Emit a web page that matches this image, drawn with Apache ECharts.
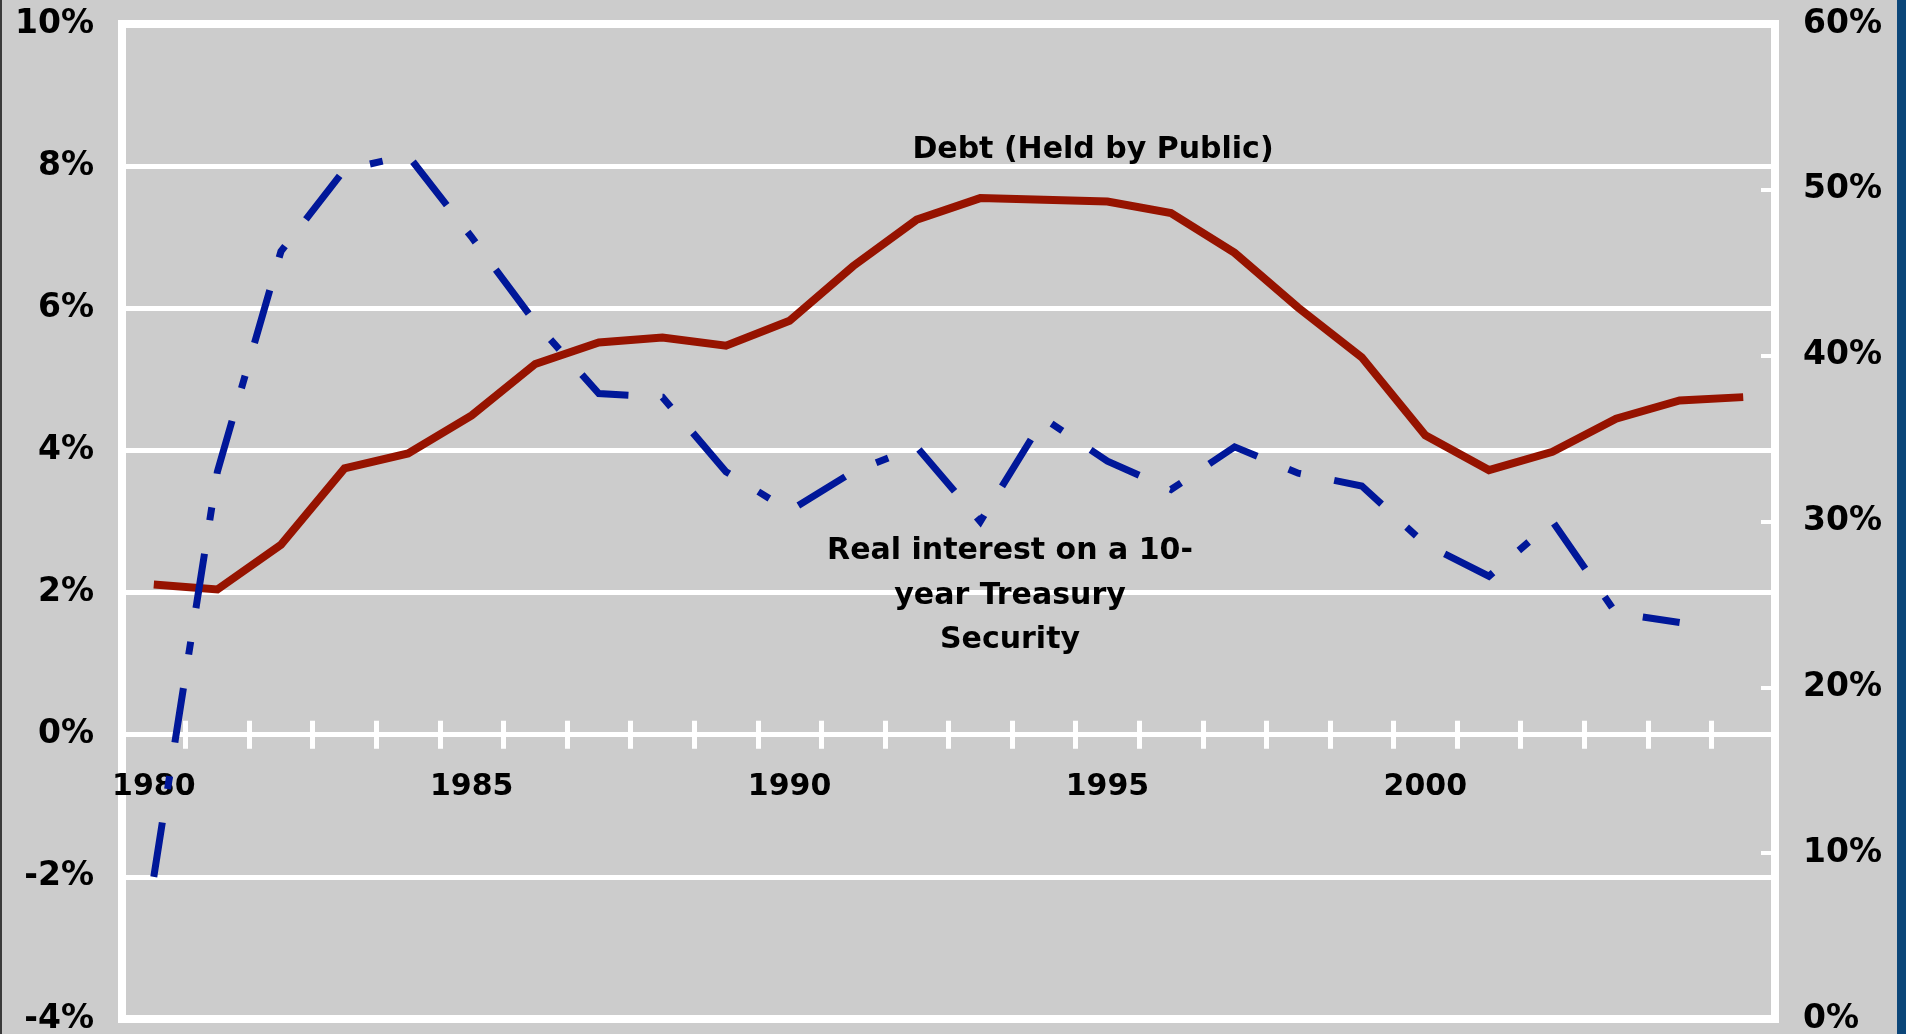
<!DOCTYPE html>
<html>
<head>
<meta charset="utf-8">
<script src="https://cdn.jsdelivr.net/npm/echarts@6/dist/echarts.min.js"></script>
<style>
html,body{margin:0;padding:0;background:#cccccc;}
#chart{position:absolute;left:0;top:0;width:1906px;height:1034px;background:#cccccc;}
#lb{position:absolute;left:0;top:0;width:2px;height:1034px;background:#3a3a3a;}
#rb{position:absolute;left:1897px;top:0;width:9px;height:1034px;background:#0b4679;}
</style>
</head>
<body>
<div id="chart"></div>
<div id="lb"></div>
<div id="rb"></div>
<script>
const years = ['1980','1981','1982','1983','1984','1985','1986','1987','1988','1989','1990','1991','1992','1993','1994','1995','1996','1997','1998','1999','2000','2001','2002','2003','2004','2005'];
// Year labels shown under the axis
const yearLabels = ['1980','1985','1990','1995','2000'];
// Debt held by public, % (right axis)
const debtHeld = [26.2, 25.9, 28.6, 33.2, 34.1, 36.4, 39.5, 40.8, 41.1, 40.6, 42.1, 45.4, 48.2, 49.5, 49.4, 49.3, 48.6, 46.2, 42.9, 39.9, 35.2, 33.1, 34.2, 36.2, 37.3, 37.5];
// Real interest on a 10-year Treasury security, % (left axis)
const realInterest = [-2.0, 3.7, 6.8, 7.95, 8.15, 7.0, 5.8, 4.8, 4.75, 3.7, 3.15, 3.7, 4.05, 3.0, 4.45, 3.85, 3.45, 4.05, 3.68, 3.5, 2.68, 2.23, 3.0, 1.71, 1.58, null];
const leftTicks = {min: -4, max: 10, interval: 2};
const rightTicks = {min: 0, max: 60, interval: 10};
const debtLabel = 'Debt (Held by Public)';
const rateLabel = 'Real interest on a 10-\nyear Treasury\nSecurity';

const FONT = 'DejaVu Sans';
const W = 1906, H = 1034;
const G = {left: 122, top: 24, right: 131, bottom: 15};
const gridH = H - G.top - G.bottom;
// distance of the zero line from the bottom / top edges of the grid
const zeroFromBottom = (0 - leftTicks.min) / (leftTicks.max - leftTicks.min) * gridH;
const zeroFromTop = gridH - zeroFromBottom;

const chart = echarts.init(document.getElementById('chart'), null, {renderer: 'canvas', width: W, height: H});
const option = {
  animation: false,
  backgroundColor: '#cccccc',
  grid: Object.assign({show: true, borderColor: '#ffffff', borderWidth: 8, backgroundColor: 'transparent', containLabel: false, outerBoundsMode: 'none'}, G),
  xAxis: [
    {
      type: 'category', data: years, boundaryGap: true, position: 'bottom', offset: -zeroFromBottom,
      axisLine: {show: true, onZero: false, lineStyle: {color: '#ffffff', width: 5}},
      axisTick: {show: true, interval: 0, inside: false, length: 14, lineStyle: {color: '#ffffff', width: 5}},
      axisLabel: {interval: (i, v) => yearLabels.indexOf(v) >= 0, margin: 37, color: '#000', fontFamily: FONT, fontWeight: 'bold', fontSize: 30, lineHeight: 30},
      splitLine: {show: false}
    },
    {
      type: 'category', data: years, boundaryGap: true, position: 'top', offset: -zeroFromTop,
      axisLine: {show: false, onZero: false},
      axisTick: {show: true, interval: 0, inside: false, length: 14, lineStyle: {color: '#ffffff', width: 5}},
      axisLabel: {show: false},
      splitLine: {show: false}
    }
  ],
  yAxis: [
    {
      type: 'value', position: 'left', min: leftTicks.min, max: leftTicks.max, interval: leftTicks.interval,
      axisLine: {show: false}, axisTick: {show: false},
      axisLabel: {formatter: '{value}%', margin: 28, color: '#000', fontFamily: FONT, fontWeight: 'bold', fontSize: 33},
      splitLine: {show: true, lineStyle: {color: '#ffffff', width: 5}}
    },
    {
      type: 'value', position: 'right', min: rightTicks.min, max: rightTicks.max, interval: rightTicks.interval,
      axisLine: {show: false},
      axisTick: {show: true, inside: true, length: 14, lineStyle: {color: '#ffffff', width: 4}},
      axisLabel: {formatter: '{value}%', margin: 28, color: '#000', fontFamily: FONT, fontWeight: 'bold', fontSize: 33},
      splitLine: {show: false}
    }
  ],
  series: [
    {
      name: 'Debt', type: 'line', xAxisIndex: 0, yAxisIndex: 1, data: debtHeld,
      showSymbol: false, symbol: 'none', z: 3,
      lineStyle: {color: '#961300', width: 8, join: 'miter'}
    },
    {
      name: 'Real interest', type: 'line', xAxisIndex: 0, yAxisIndex: 0, data: realInterest,
      showSymbol: false, symbol: 'none', z: 4, connectNulls: false,
      lineStyle: {color: '#001799', width: 7, type: [55, 34, 13, 34], cap: 'butt', join: 'miter'}
    }
  ],
  graphic: [
    {type: 'text', x: 1093, y: 150, z: 10, style: {text: debtLabel, align: 'center', verticalAlign: 'middle', font: 'bold 30px "DejaVu Sans"', fill: '#000'}},
    {type: 'text', x: 1010, y: 596, z: 10, style: {text: rateLabel, align: 'center', verticalAlign: 'middle', font: 'bold 30px "DejaVu Sans"', lineHeight: 44.5, fill: '#000'}}
  ]
};
chart.setOption(option);
</script>
</body>
</html>
